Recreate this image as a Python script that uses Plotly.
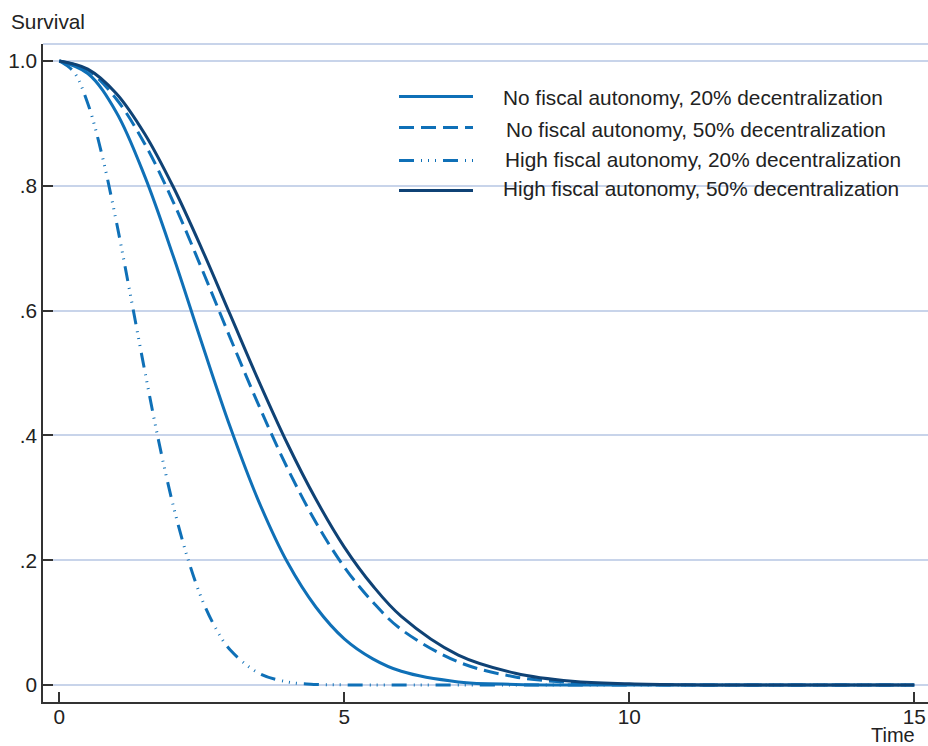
import plotly.graph_objects as go

# Survival estimates read at regular time points for each scenario
t_nofa_20 = [0, 0.5, 1.0, 1.5, 2.0, 2.5, 3.0, 3.5, 4.0, 4.5, 5.0, 5.5, 6.0, 7.0, 8.0, 9.0, 10.0, 12.0, 15.0]
s_nofa_20 = [1.0, 0.980, 0.918, 0.815, 0.687, 0.548, 0.413, 0.294, 0.197, 0.125, 0.074, 0.042, 0.022, 0.005, 0.001, 0.0001, 0, 0, 0]

t_nofa_50 = [0, 0.5, 1.0, 1.5, 2.0, 2.5, 3.0, 3.5, 4.0, 4.5, 5.0, 5.5, 6.0, 7.0, 8.0, 9.0, 10.0, 12.0, 15.0]
s_nofa_50 = [1.0, 0.985, 0.939, 0.867, 0.774, 0.667, 0.556, 0.448, 0.348, 0.261, 0.189, 0.133, 0.089, 0.037, 0.013, 0.004, 0.001, 0, 0]

t_hifa_20 = [0, 0.25, 0.5, 0.75, 1.0, 1.25, 1.5, 1.75, 2.0, 2.25, 2.5, 2.75, 3.0, 3.5, 4.0, 4.5, 5.0, 6.0, 8.0, 10.0, 15.0]
s_hifa_20 = [1.0, 0.983, 0.932, 0.849, 0.743, 0.624, 0.503, 0.388, 0.287, 0.204, 0.138, 0.090, 0.056, 0.019, 0.005, 0.001, 0.0002, 0, 0, 0, 0]

t_hifa_50 = [0, 0.5, 1.0, 1.5, 2.0, 2.5, 3.0, 3.5, 4.0, 4.5, 5.0, 5.5, 6.0, 7.0, 8.0, 9.0, 10.0, 11.0, 12.0, 15.0]
s_hifa_50 = [1.0, 0.987, 0.948, 0.883, 0.798, 0.699, 0.593, 0.487, 0.387, 0.298, 0.221, 0.159, 0.110, 0.048, 0.019, 0.006, 0.002, 0.0004, 0, 0]

series_names = [
    "No fiscal autonomy, 20% decentralization",
    "No fiscal autonomy, 50% decentralization",
    "High fiscal autonomy, 20% decentralization",
    "High fiscal autonomy, 50% decentralization",
]

x_ticks = [0, 5, 10, 15]
y_ticks = [0, 0.2, 0.4, 0.6, 0.8, 1.0]
y_tick_labels = ["0", ".2", ".4", ".6", ".8", "1.0"]

MID_BLUE = "#0f70b7"
NAVY = "#0f4275"
GRID = "#c8d4ea"
AXIS = "#333333"
TEXT = "#222222"
FONT = "Liberation Sans, Arial, sans-serif"
FS = 20.8

W, H = 928, 746
L, R, T, B = 43, 0, 44, 44
PW, PH = W - L - R, H - T - B


def px(xp):
    return (xp - L) / PW


def py(yp):
    return (H - B - yp) / PH


styles = [
    dict(color=MID_BLUE, width=3, dash="solid"),
    dict(color=MID_BLUE, width=3, dash="15px,7px"),
    dict(color=MID_BLUE, width=3, dash="15px,7px,1px,6px,1px,6px,1px,7px"),
    dict(color=NAVY, width=3, dash="solid"),
]
data = [(t_nofa_20, s_nofa_20), (t_nofa_50, s_nofa_50), (t_hifa_20, s_hifa_20), (t_hifa_50, s_hifa_50)]

fig = go.Figure()
for (tt, ss), name, st in zip(data, series_names, styles):
    fig.add_trace(go.Scatter(
        x=tt, y=ss, mode="lines", name=name,
        line=dict(color=st["color"], width=st["width"], dash=st["dash"], shape="spline", smoothing=1.0),
        showlegend=False, hoverinfo="skip",
    ))

shapes = [
    # light frame line along the top of the plot region
    dict(type="line", xref="paper", yref="paper", x0=0, x1=1, y0=1, y1=1,
         line=dict(color=GRID, width=2), layer="below"),
]
annotations = [
    dict(text="Survival", xref="paper", yref="paper", x=px(9), y=py(22),
         xanchor="left", yanchor="middle", showarrow=False, font=dict(size=FS, color=TEXT, family=FONT)),
    dict(text="Time", xref="paper", yref="paper", x=px(916), y=py(735),
         xanchor="right", yanchor="middle", showarrow=False, borderpad=0,
         font=dict(size=20, color=TEXT, family=FONT)),
]

# legend drawn as line samples plus labels
legend_line_y = [96.5, 127.5, 160.5, 190.5]
legend_text_y = [97, 129, 159, 189]
legend_text_x = [501, 504, 503, 501]
for i, (name, st) in enumerate(zip(series_names, styles)):
    shapes.append(dict(type="line", xref="paper", yref="paper",
                       x0=px(399), x1=px(473), y0=py(legend_line_y[i]), y1=py(legend_line_y[i]),
                       line=dict(color=st["color"], width=st["width"], dash=st["dash"]), layer="above"))
    annotations.append(dict(text=name, xref="paper", yref="paper", x=px(legend_text_x[i]), y=py(legend_text_y[i]),
                            xanchor="left", yanchor="middle", showarrow=False,
                            font=dict(size=FS, color=TEXT, family=FONT)))

fig.update_layout(
    width=W, height=H,
    margin=dict(l=L, r=R, t=T, b=B, pad=0),
    paper_bgcolor="white", plot_bgcolor="white",
    font=dict(family=FONT, size=FS, color=TEXT),
    shapes=shapes, annotations=annotations,
    xaxis=dict(
        range=[(L - 59.3) / 57.0, (W - 59.3) / 57.0],
        tickvals=x_ticks, ticktext=[str(v) for v in x_ticks],
        ticks="inside", ticklen=10, tickwidth=1.5, tickcolor=AXIS,
        ticklabelstandoff=-5,
        showline=True, linecolor=AXIS, linewidth=1.5,
        showgrid=False, zeroline=False,
        tickfont=dict(size=FS, color=TEXT, family=FONT),
    ),
    yaxis=dict(
        range=[-0.0272, 1.0272],
        tickvals=y_ticks, ticktext=y_tick_labels,
        ticks="inside", ticklen=10, tickwidth=1.5, tickcolor=AXIS,
        showline=True, linecolor=AXIS, linewidth=1.5,
        showgrid=True, gridcolor=GRID, gridwidth=2, zeroline=False,
        tickfont=dict(size=FS, color=TEXT, family=FONT),
    ),
)

fig.write_html("out.html")
